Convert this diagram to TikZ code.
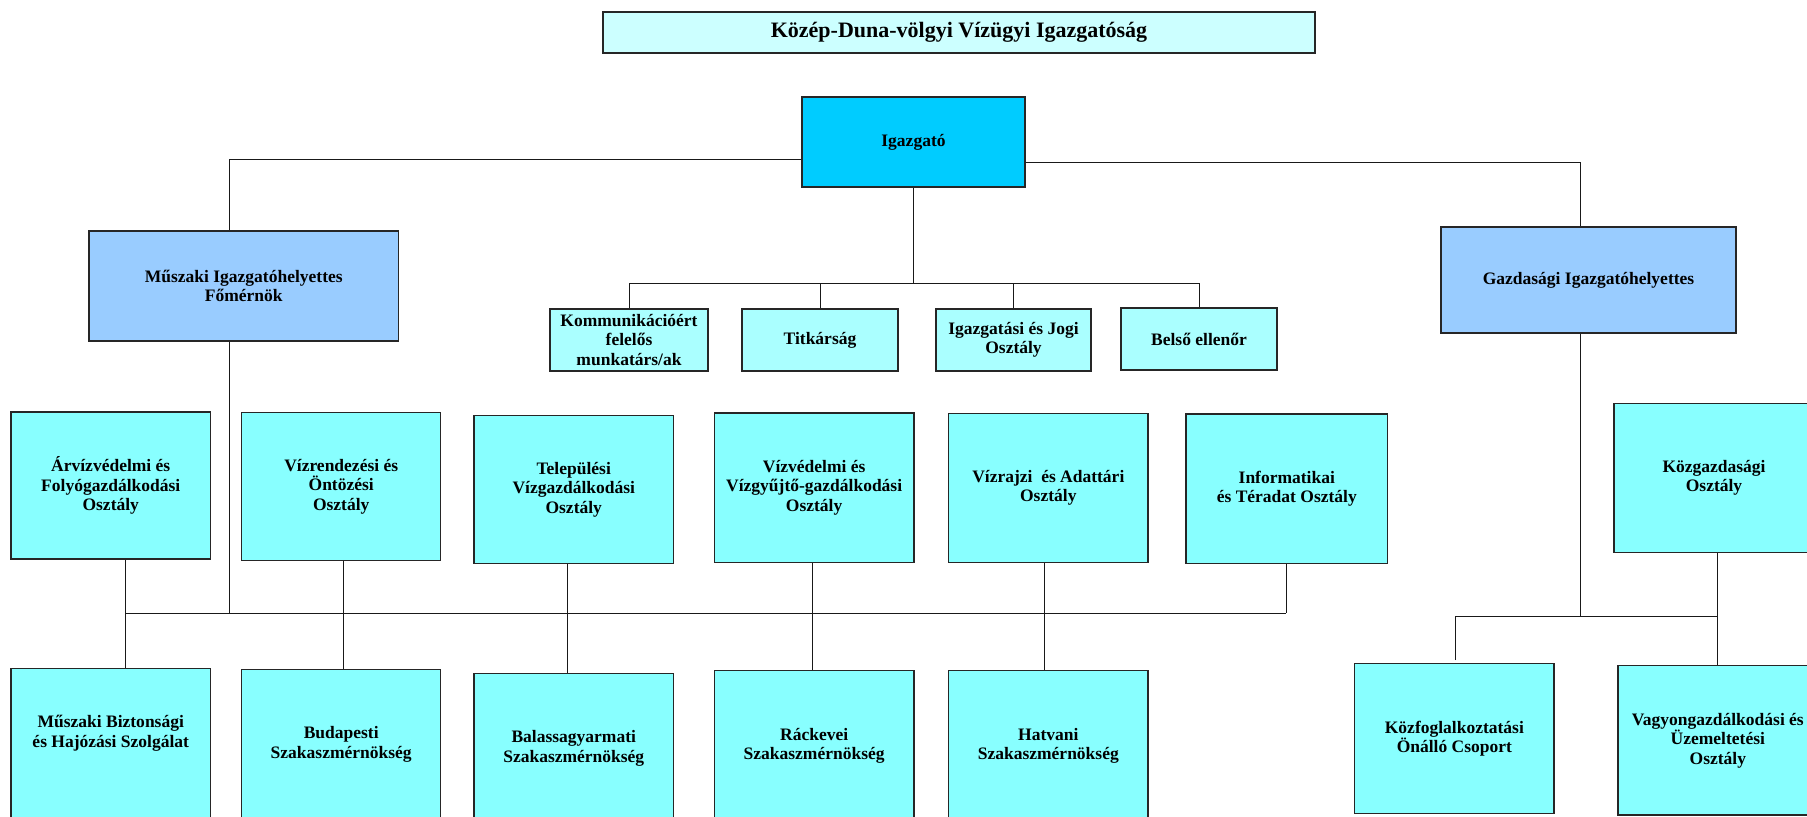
\documentclass[tikz,border=0pt]{standalone}
\usepackage{fontspec}
\setmainfont{Liberation Serif}
\newcommand\fsbox{\fontsize{8.75pt}{9.75pt}\selectfont\bfseries}
\newcommand\fstitle{\fontsize{11pt}{12pt}\selectfont\bfseries}
\definecolor{cTitle}{HTML}{CCFFFF}
\definecolor{cTop}{HTML}{00CCFF}
\definecolor{cDep}{HTML}{99CCFF}
\definecolor{cSmall}{HTML}{AAFFFF}
\definecolor{cUnit}{HTML}{88FFFF}
\tikzset{
  box/.style={draw=black!85, line width=0.7pt, inner sep=0pt, align=center, font=\fsbox},
  conn/.style={draw=black!90, line width=0.5pt},
  txt/.style={align=center, font=\fsbox, inner sep=0pt},
}
\begin{document}
\begin{tikzpicture}[x=0.5pt,y=-0.5pt]
\useasboundingbox (0,0) rectangle (1807,816);
\clip (0,0) rectangle (1807,816);
% title and top level
\node[box, fill=cTitle, minimum width=356pt, minimum height=20.5pt, font=\fstitle] (title) at (959,32.5) {Közép-Duna-völgyi Vízügyi Igazgatóság};
\node[box, fill=cTop, minimum width=111.5pt, minimum height=45pt] (igaz) at (913.5,142) {Igazgató};
\node[box, fill=cDep, minimum width=154.75pt, minimum height=55pt] (musz) at (243.75,286) {Műszaki Igazgatóhelyettes\\Főmérnök};
\node[box, fill=cDep, minimum width=147.5pt, minimum height=53pt] (gazd) at (1588.5,280) {Gazdasági Igazgatóhelyettes};
% staff boxes
\node[box, fill=cSmall, minimum width=79pt, minimum height=31pt] (komm) at (629,340) {Kommunikációért\\felelős\\munkatárs/ak};
\node[box, fill=cSmall, minimum width=78pt, minimum height=31pt] (titk) at (820,340) {Titkárság};
\node[box, fill=cSmall, minimum width=77.5pt, minimum height=31pt] (igjo) at (1013.5,340) {Igazgatási és Jogi\\Osztály};
\node[box, fill=cSmall, minimum width=78pt, minimum height=31pt] (bels) at (1199,339) {Belső ellenőr};
% row 1
\node[box, fill=cUnit, minimum width=99.75pt, minimum height=73.5pt] (arv) at (110.75,485.5) {Árvízvédelmi és\\Folyógazdálkodási\\Osztály};
\node[box, fill=cUnit, minimum width=99.5pt, minimum height=73.8pt] (vizr) at (341.2,486.5) {Vízrendezési és\\Öntözési\\Osztály};
\node[box, fill=cUnit, minimum width=99.75pt, minimum height=74pt] (tel) at (573.75,489.3) {Települési\\Vízgazdálkodási\\Osztály};
\node[box, fill=cUnit, minimum width=99.85pt, minimum height=74.65pt] (vizv) at (814.15,487.65) {Vízvédelmi és\\Vízgyűjtő-gazdálkodási\\Osztály};
\node[box, fill=cUnit, minimum width=99.7pt, minimum height=74.5pt] (vraj) at (1048.3,487.8) {Vízrajzi\ \ és Adattári\\Osztály};
\node[box, fill=cUnit, minimum width=100.8pt, minimum height=74.65pt] (inf) at (1286.8,488.7) {Informatikai\\és Téradat Osztály};
\node[box, fill=cUnit, minimum width=100pt, minimum height=74.7pt] (kozg) at (1714,478) {Közgazdasági\\Osztály};
% row 2
\node[box, fill=cUnit, minimum width=99.75pt, minimum height=75pt,
  label={[txt, yshift=5pt]center:{Műszaki Biztonsági\\és Hajózási Szolgálat}}] (mbiz) at (110.75,743.3) {};
\node[box, fill=cUnit, minimum width=99.5pt, minimum height=75pt] (bud) at (341.2,744.3) {Budapesti\\Szakaszmérnökség};
\node[box, fill=cUnit, minimum width=99.75pt, minimum height=75pt] (bal) at (573.75,748.3) {Balassagyarmati\\Szakaszmérnökség};
\node[box, fill=cUnit, minimum width=99.85pt, minimum height=75pt] (rack) at (814.15,745.7) {Ráckevei\\Szakaszmérnökség};
\node[box, fill=cUnit, minimum width=99.7pt, minimum height=75pt] (hatv) at (1048.3,745.7) {Hatvani\\Szakaszmérnökség};
\node[box, fill=cUnit, minimum width=99.65pt, minimum height=74.8pt] (kozf) at (1454.35,738.5) {Közfoglalkoztatási\\Önálló Csoport};
\node[box, fill=cUnit, minimum width=100pt, minimum height=74.65pt] (vagy) at (1717.8,740.35) {Vagyongazdálkodási és\\Üzemeltetési\\Osztály};
% junction coordinates
\coordinate (jL) at (229,159);
\coordinate (jR) at (1580,162);
\coordinate (busA) at (0,283);
\coordinate (bM) at (229,613);
\coordinate (b1) at (125,613);
\coordinate (b2) at (343,613);
\coordinate (b3) at (567,613);
\coordinate (b4) at (812.5,613);
\coordinate (b5) at (1044.6,613);
\coordinate (b6) at (1286.4,613);
\coordinate (gM) at (1580,616);
\coordinate (g1) at (1455,616);
\coordinate (g2) at (1717,616);
\coordinate (gE) at (1455,660);
% connectors top
\draw[conn] (igaz.west |- jL) -- (jL) -- (jL |- musz.north);
\draw[conn] (igaz.east |- jR) -- (jR) -- (jR |- gazd.north);
\draw[conn] (igaz.south) -- (igaz.south |- busA);
\draw[conn] (komm.north) -- (komm.north |- busA) -- (bels.north |- busA) -- (bels.north);
\draw[conn] (titk.north) -- (titk.north |- busA);
\draw[conn] (igjo.north) -- (igjo.north |- busA);
% left bus
\draw[conn] (musz.south -| bM) -- (bM);
\draw[conn] (b1) -- (b6);
\draw[conn] (arv.south -| b1) -- (mbiz.north -| b1);
\draw[conn] (vizr.south -| b2) -- (bud.north -| b2);
\draw[conn] (tel.south -| b3) -- (bal.north -| b3);
\draw[conn] (vizv.south -| b4) -- (rack.north -| b4);
\draw[conn] (vraj.south -| b5) -- (hatv.north -| b5);
\draw[conn] (inf.south -| b6) -- (b6);
% right bus
\draw[conn] (gazd.south -| gM) -- (gM);
\draw[conn] (gE) -- (g1) -- (g2);
\draw[conn] (kozg.south -| g2) -- (vagy.north -| g2);
\end{tikzpicture}
\end{document}
